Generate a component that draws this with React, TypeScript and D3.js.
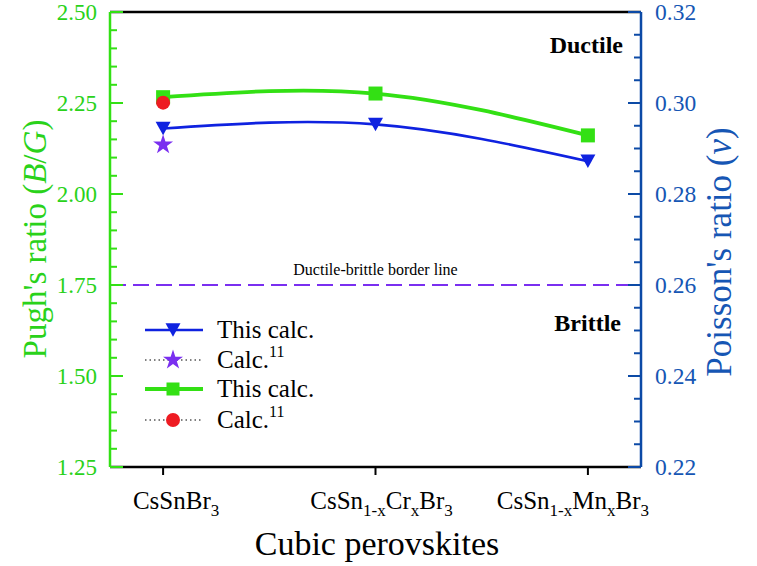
import React from "react";
import * as d3 from "d3";

const categories = [1, 2, 3];
const pughThis = [2.266, 2.276, 2.161];
const pughRef = [2.251];
const poissonThis = [0.2944, 0.2953, 0.2872];
const poissonRef = [0.2908];
const leftTicks = [1.25, 1.5, 1.75, 2.0, 2.25, 2.5];
const rightTicks = [0.22, 0.24, 0.26, 0.28, 0.3, 0.32];
const borderValue = 1.75;

const W = 757, H = 566;
const M = { left: 110, right: 641, top: 12, bottom: 467 };
const GREEN = "#33e014";
const GREEN_TXT = "#2ad21a";
const BLUE = "#0f22e0";
const BLUE_AX = "#0c4aa6";
const BLUE_TXT = "#1656b4";
const PURPLE = "#7a2ff0";
const RED = "#ee1b22";
const FONT = '"Liberation Serif", "DejaVu Serif", serif';

function Star({ cx, cy, r, fill }: { cx: number; cy: number; r: number; fill: string }) {
  const sym = d3.symbol().type(d3.symbolStar).size(r * r * 2.2)();
  return <path d={sym || ""} transform={`translate(${cx},${cy})`} fill={fill} />;
}

function TriDown({ cx, cy, s, fill }: { cx: number; cy: number; s: number; fill: string }) {
  const h = s * 0.9;
  return (
    <path
      d={`M${cx - s / 2},${cy - h / 2}L${cx + s / 2},${cy - h / 2}L${cx},${cy + h / 2}Z`}
      fill={fill}
    />
  );
}

export default function App() {
  const x = d3.scaleLinear().domain([0.75, 3.25]).range([M.left, M.right]);
  const yL = d3.scaleLinear().domain([1.25, 2.5]).range([M.bottom, M.top]);
  const yR = d3.scaleLinear().domain([0.22, 0.32]).range([M.bottom, M.top]);

  const line = d3.line<number>().curve(d3.curveNatural);
  const greenPath = line(categories.map((c, i) => [x(c), yL(pughThis[i])] as [number, number]));
  const bluePath = line(categories.map((c, i) => [x(c), yR(poissonThis[i])] as [number, number]));

  const leftMinor = d3.range(1.25, 2.5001, 0.05).filter((v) => !leftTicks.some((t) => Math.abs(t - v) < 1e-6));
  const rightMinor = d3.range(0.22, 0.32001, 0.005).filter((v) => !rightTicks.some((t) => Math.abs(t - v) < 1e-6));

  const legendRows = [
    { y: 330, kind: "blueLine", label: "This calc.", sup: "" },
    { y: 360, kind: "star", label: "Calc.", sup: "11" },
    { y: 389, kind: "greenLine", label: "This calc.", sup: "" },
    { y: 420, kind: "circle", label: "Calc.", sup: "11" },
  ];
  const lx0 = 145, lx1 = 203, lmx = 173, ltx = 217;
  const sub = 17, dd = 7;

  return (
    <svg width={W} height={H} style={{ display: "block", position: "absolute", left: 0, top: 0, fontFamily: FONT }}>
      <rect width={W} height={H} fill="#fff" />
      {/* dashed border line */}
      <line x1={M.left} x2={M.right} y1={yL(borderValue)} y2={yL(borderValue)} stroke={PURPLE} strokeWidth={2} strokeDasharray="16 7" />
      <text x={(M.left + M.right) / 2} y={yL(borderValue) - 10} textAnchor="middle" fontSize={16}>Ductile-brittle border line</text>
      <text x={623} y={53} textAnchor="end" fontSize={24} fontWeight="bold">Ductile</text>
      <text x={621} y={331} textAnchor="end" fontSize={24} fontWeight="bold">Brittle</text>

      {/* curves */}
      <path d={greenPath || ""} fill="none" stroke={GREEN} strokeWidth={3.8} />
      <path d={bluePath || ""} fill="none" stroke={BLUE} strokeWidth={2.6} />
      {categories.map((c, i) => (
        <rect key={"g" + i} x={x(c) - 7} y={yL(pughThis[i]) - 7} width={14} height={14} fill={GREEN} />
      ))}
      <circle cx={x(categories[0])} cy={yL(pughRef[0])} r={7} fill={RED} />
      {categories.map((c, i) => (
        <TriDown key={"b" + i} cx={x(c)} cy={yR(poissonThis[i])} s={15} fill={BLUE} />
      ))}
      <Star cx={x(categories[0])} cy={yR(poissonRef[0])} r={7.5} fill={PURPLE} />

      {/* frame */}
      <line x1={M.left} x2={M.right} y1={M.top} y2={M.top} stroke="#000" strokeWidth={2.5} />
      <line x1={M.left} x2={M.right} y1={M.bottom} y2={M.bottom} stroke="#000" strokeWidth={2.5} />
      <line x1={M.left} x2={M.left} y1={M.top} y2={M.bottom} stroke={GREEN} strokeWidth={2.5} />
      <line x1={M.right} x2={M.right} y1={M.top} y2={M.bottom} stroke={BLUE_AX} strokeWidth={2.5} />

      {/* left ticks */}
      {leftTicks.map((t) => (
        <g key={"lt" + t}>
          <line x1={M.left} x2={M.left + 13} y1={yL(t)} y2={yL(t)} stroke={GREEN} strokeWidth={2} />
          <text x={97} y={yL(t) + 8} textAnchor="end" fontSize={23} fill={GREEN_TXT}>{t.toFixed(2)}</text>
        </g>
      ))}
      {leftMinor.map((t) => (
        <line key={"lm" + t} x1={M.left} x2={M.left + 7} y1={yL(t)} y2={yL(t)} stroke={GREEN} strokeWidth={2} />
      ))}
      {/* right ticks */}
      {rightTicks.map((t) => (
        <g key={"rt" + t}>
          <line x1={M.right - 13} x2={M.right} y1={yR(t)} y2={yR(t)} stroke={BLUE_AX} strokeWidth={2} />
          <text x={655} y={yR(t) + 8} textAnchor="start" fontSize={23.5} fill={BLUE_TXT}>{t.toFixed(2)}</text>
        </g>
      ))}
      {rightMinor.map((t) => (
        <line key={"rm" + t} x1={M.right - 7} x2={M.right} y1={yR(t)} y2={yR(t)} stroke={BLUE_AX} strokeWidth={2} />
      ))}
      {/* bottom ticks */}
      {categories.map((c) => (
        <line key={"bt" + c} x1={x(c)} x2={x(c)} y1={M.bottom} y2={M.bottom + 8} stroke="#000" strokeWidth={2} />
      ))}
      <text x={x(1) + 13} y={509} textAnchor="middle" fontSize={25}>
        CsSnBr<tspan fontSize={sub} dy={dd}>3</tspan>
      </text>
      <text x={x(2) + 6} y={509} textAnchor="middle" fontSize={25}>
        CsSn<tspan fontSize={sub} dy={dd}>1-x</tspan><tspan dy={-dd}>Cr</tspan><tspan fontSize={sub} dy={dd}>x</tspan><tspan dy={-dd}>Br</tspan><tspan fontSize={sub} dy={dd}>3</tspan>
      </text>
      <text x={x(3) - 15} y={509} textAnchor="middle" fontSize={25}>
        CsSn<tspan fontSize={sub} dy={dd}>1-x</tspan><tspan dy={-dd}>Mn</tspan><tspan fontSize={sub} dy={dd}>x</tspan><tspan dy={-dd}>Br</tspan><tspan fontSize={sub} dy={dd}>3</tspan>
      </text>
      <text x={377} y={555} textAnchor="middle" fontSize={34}>Cubic perovskites</text>

      {/* axis titles */}
      <text transform={`translate(46,239) rotate(-90)`} textAnchor="middle" fontSize={33} fill={GREEN_TXT}>
        Pugh's ratio (<tspan fontStyle="italic">B</tspan>/<tspan fontStyle="italic">G</tspan>)
      </text>
      <text transform={`translate(731,252) rotate(-90)`} textAnchor="middle" fontSize={35} fill={BLUE_TXT}>
        Poisson's ratio (<tspan fontStyle="italic">ν</tspan>)
      </text>

      {/* legend */}
      {legendRows.map((r) => (
        <g key={"lg" + r.y}>
          {r.kind === "blueLine" && (
            <>
              <line x1={lx0} x2={lx1} y1={r.y} y2={r.y} stroke={BLUE} strokeWidth={2.6} />
              <TriDown cx={lmx} cy={r.y} s={15} fill={BLUE} />
            </>
          )}
          {r.kind === "greenLine" && (
            <>
              <line x1={lx0} x2={lx1} y1={r.y} y2={r.y} stroke={GREEN} strokeWidth={3.8} />
              <rect x={lmx - 6.5} y={r.y - 6.5} width={13} height={13} fill={GREEN} />
            </>
          )}
          {r.kind === "star" && (
            <>
              <line x1={lx0} x2={lx1} y1={r.y} y2={r.y} stroke="#000" strokeWidth={1} strokeDasharray="1.5 3" />
              <Star cx={lmx} cy={r.y} r={7.5} fill={PURPLE} />
            </>
          )}
          {r.kind === "circle" && (
            <>
              <line x1={lx0} x2={lx1} y1={r.y} y2={r.y} stroke="#000" strokeWidth={1} strokeDasharray="1.5 3" />
              <circle cx={lmx} cy={r.y} r={7} fill={RED} />
            </>
          )}
          <text x={ltx} y={r.y + 8} fontSize={25}>
            {r.label}
            {r.sup && <tspan fontSize={16} dy={-11}>{r.sup}</tspan>}
          </text>
        </g>
      ))}
    </svg>
  );
}
